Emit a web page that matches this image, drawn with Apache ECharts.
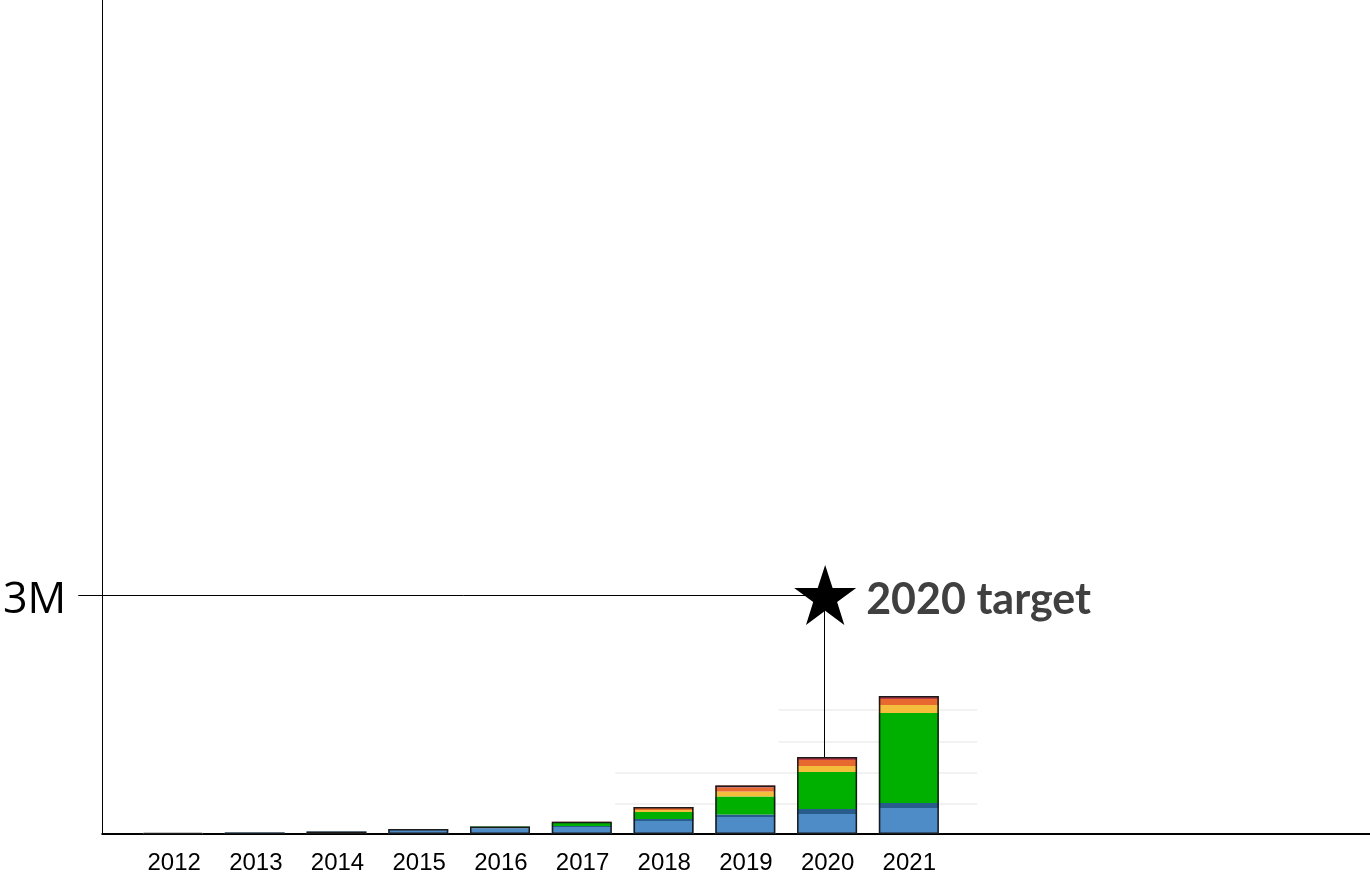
<!DOCTYPE html>
<html>
<head>
<meta charset="utf-8">
<script src="https://cdn.jsdelivr.net/npm/echarts@6/dist/echarts.min.js"></script>
<style>
html,body{margin:0;padding:0;background:#fff;}
#c{width:1370px;height:875px;}
</style>
</head>
<body>
<div id="c"></div>
<script>
// ---- data (values in vehicles) ----
const years = [2012, 2013, 2014, 2015, 2016, 2017, 2018, 2019, 2020, 2021];
const seriesLightBlue = [12000, 19000, 30000, 50000, 69000, 88000, 163000, 213000, 251000, 326000];
const seriesDarkBlue  = [0, 0, 0, 6000, 12000, 12000, 25000, 31000, 63000, 63000];
const seriesGreen     = [0, 0, 0, 6000, 12000, 38000, 88000, 226000, 464000, 1130000];
const seriesYellow    = [0, 0, 0, 0, 0, 6000, 25000, 63000, 75000, 100000];
const seriesOrange    = [0, 0, 0, 0, 0, 6000, 25000, 50000, 75000, 75000];
const seriesRed       = [0, 0, 0, 0, 0, 4000, 12000, 25000, 38000, 38000];
const yTickValues = [3000000];
const yTickLabels = ['3M'];
const targetYear = 2020;
const targetValue = 3000000;
const targetLabel = '2020 target';
// faint background guide lines [value, fromYear, toYear]
const guideLines = [[1556000, 2019.4, 2021.83], [1155000, 2019.4, 2021.83], [766000, 2017.4, 2021.83], [377000, 2017.4, 2021.83]];

const totals = years.map((y, i) => seriesLightBlue[i] + seriesDarkBlue[i] + seriesGreen[i] + seriesYellow[i] + seriesOrange[i] + seriesRed[i]);
const xMin = 2011.12, xMax = 2026.64;
const yMax = 10468000;

// layout: value grid spans 101..1370; bar grid is the band of the 10 years
const pxPerYear = (1370 - 101) / (xMax - xMin);
const barGridLeft = 101 + (years[0] - 0.5 - xMin) * pxPerYear;
const barGridRight = 1370 - (barGridLeft + years.length * pxPerYear);

function mk(name, arr, color) {
  return {
    name: name, type: 'bar', stack: 'total', barWidth: 60,
    xAxisIndex: 1, yAxisIndex: 1,
    data: arr.slice(),
    itemStyle: { color: color },
    emphasis: { disabled: true },
    z: 3
  };
}

const starPath = 'path://M50,0 L61.8,35.4 L99,35.4 L68.9,57.3 L80.3,92.7 L50,70.8 L19.7,92.7 L31.1,57.3 L1,35.4 L38.2,35.4 Z';

const series = [
  {
    name: 'guides', type: 'line', data: [], z: 0,
    xAxisIndex: 0, yAxisIndex: 0,
    markLine: {
      silent: true, symbol: 'none', animation: false, label: { show: false }, z: 0,
      data: guideLines.map(g => [
        { coord: [g[1], g[0]], lineStyle: { color: '#f2f2f2', width: 2, type: 'solid' } }, { coord: [g[2], g[0]] }
      ])
    }
  },
  mk('Light blue', seriesLightBlue, '#4d8cc6'),
  mk('Dark blue', seriesDarkBlue, '#285c8c'),
  mk('Green', seriesGreen, '#00b000'),
  mk('Yellow', seriesYellow, '#f4bd3c'),
  mk('Orange', seriesOrange, '#e8692f'),
  mk('Red', seriesRed, '#b83a44'),
  {
    name: 'outline', type: 'bar', barWidth: 60, barGap: '-100%',
    xAxisIndex: 1, yAxisIndex: 1,
    data: totals,
    itemStyle: { color: 'rgba(0,0,0,0)', borderColor: '#1a1a1a', borderWidth: 1.5 },
    emphasis: { disabled: true },
    z: 4
  },
  {
    name: 'target', type: 'line', data: [], z: 5,
    xAxisIndex: 0, yAxisIndex: 0,
    markLine: {
      silent: true, symbol: 'none', animation: false, label: { show: false },
      data: [
        [{ coord: [xMin, targetValue], lineStyle: { color: '#000', width: 1, type: 'solid' } }, { coord: [targetYear - 0.04, targetValue] }],
        [{ coord: [targetYear - 0.04, targetValue], lineStyle: { color: '#000', width: 1, type: 'solid' } }, { coord: [targetYear - 0.04, totals[years.indexOf(targetYear)]] }]
      ]
    },
    markPoint: {
      silent: true, animation: false,
      data: [{
        coord: [targetYear - 0.03, targetValue],
        symbol: starPath, symbolSize: [62, 60], symbolKeepAspect: false,
        itemStyle: { color: '#000' },
        label: {
          show: true, position: 'right', distance: 10, formatter: targetLabel,
          color: '#404040', fontSize: 43, fontWeight: 'bold', fontFamily: 'Lato',
          offset: [0, 5]
        }
      }]
    }
  }
];

const chart = echarts.init(document.getElementById('c'), null, { renderer: 'canvas' });
chart.setOption({
  animation: false,
  backgroundColor: '#fff',
  grid: [
    { left: 101, right: 0, top: 0, bottom: 41, containLabel: false },
    { left: barGridLeft, right: barGridRight, top: 0, bottom: 41, containLabel: false }
  ],
  xAxis: [{
    type: 'value', min: xMin, max: xMax, gridIndex: 0,
    axisLine: { show: true, lineStyle: { color: '#000', width: 2 } },
    axisTick: { show: false },
    splitLine: { show: false },
    axisLabel: {
      customValues: years, formatter: v => String(Math.round(v)),
      color: '#000', fontSize: 24, fontFamily: 'Liberation Sans', margin: 17
    }
  }, {
    type: 'category', data: years.map(String), gridIndex: 1,
    show: false
  }],
  yAxis: [{
    type: 'value', min: 0, max: yMax, gridIndex: 0,
    axisLine: { show: true, lineStyle: { color: '#000', width: 1 } },
    axisTick: { show: true, customValues: yTickValues, length: 24, lineStyle: { color: '#000', width: 1 } },
    splitLine: { show: false },
    axisLabel: {
      customValues: yTickValues,
      formatter: v => '{a|' + (yTickLabels[yTickValues.indexOf(v)] || '') + '}',
      color: '#000', fontSize: 43, fontFamily: 'Open Sans', margin: 36,
      rich: { a: { fontSize: 43, fontFamily: 'Open Sans', color: '#000', padding: [12, 0, 0, 0] } }
    }
  }, {
    type: 'value', min: 0, max: yMax, gridIndex: 1, show: false
  }],
  series: series
});
</script>
</body>
</html>
